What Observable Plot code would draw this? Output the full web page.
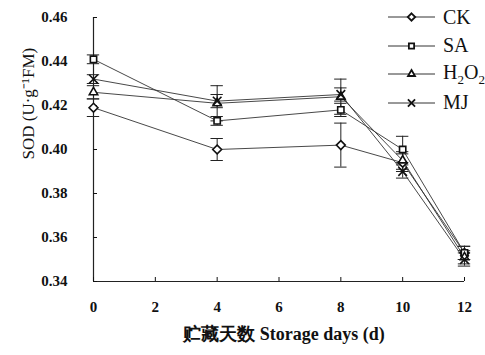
<!DOCTYPE html>
<html><head><meta charset="utf-8">
<script src="https://cdn.jsdelivr.net/npm/d3@7"></script>
<script src="https://cdn.jsdelivr.net/npm/@observablehq/plot@0.6"></script>
<style>
body{margin:0;background:#fff;}
#wrap{position:relative;width:485px;height:355px;}
#legend{position:absolute;left:388px;top:3px;font-family:"Liberation Serif","Times New Roman",serif;font-size:20px;color:#111;}
#legend .row{display:flex;align-items:center;height:28.5px;}
#legend svg{margin-right:8px;}
#legend sub{font-size:13px;}
</style></head><body>
<div id="wrap"><div id="legend"></div></div>
<script>
const days = [0, 4, 8, 10, 12];
const seriesNames = ["CK", "SA", "H2O2", "MJ"];
const ck   = [0.419, 0.400, 0.402, 0.394, 0.353];
const sa   = [0.441, 0.413, 0.418, 0.400, 0.353];
const h2o2 = [0.426, 0.421, 0.424, 0.395, 0.351];
const mj   = [0.432, 0.422, 0.425, 0.390, 0.350];
const ckErr   = [0.004, 0.005, 0.010, 0.004, 0.003];
const saErr   = [0.002, 0.002, 0.003, 0.006, 0.003];
const h2o2Err = [0.003, 0.008, 0.008, 0.004, 0.003];
const mjErr   = [0.002, 0.003, 0.003, 0.003, 0.003];
const xTicks = [0, 2, 4, 6, 8, 10, 12];
const yTicks = [0.34, 0.36, 0.38, 0.40, 0.42, 0.44, 0.46];
const symbols = {CK: "diamond2", SA: "square2", H2O2: "triangle2", MJ: "times"};

const valuesBy = {CK: ck, SA: sa, H2O2: h2o2, MJ: mj};
const errBy = {CK: ckErr, SA: saErr, H2O2: h2o2Err, MJ: mjErr};
const data = seriesNames.flatMap(s => days.map((d, i) => ({series: s, day: d, v: valuesBy[s][i], e: errBy[s][i]})));
const capHalf = 0.2;

const chart = Plot.plot({
  width: 485, height: 355,
  marginLeft: 93, marginRight: 21, marginTop: 17, marginBottom: 74,
  style: {fontFamily: "'Liberation Serif','Times New Roman',serif", fontSize: "15px", color: "#111", background: "#fff"},
  x: {domain: [0, 12]},
  y: {domain: [0.34, 0.46]},
  marks: [
    Plot.ruleX([0], {stroke: "#222", strokeWidth: 1.2}),
    Plot.ruleY([0.34], {stroke: "#222", strokeWidth: 1.2}),
    Plot.axisX({ticks: xTicks, tickSize: -4, tickPadding: 24, tickFormat: d => d, fontWeight: "bold", label: null}),
    Plot.axisY({ticks: yTicks, tickSize: -4, tickPadding: 30, tickFormat: d => d.toFixed(2), fontWeight: "bold", label: null}),
    Plot.ruleX(data, {x: "day", y1: d => d.v - d.e, y2: d => d.v + d.e, stroke: "#222", strokeWidth: 1}),
    Plot.ruleY(data, {y: d => d.v + d.e, x1: d => d.day - capHalf, x2: d => d.day + capHalf, stroke: "#222", strokeWidth: 1}),
    Plot.ruleY(data, {y: d => d.v - d.e, x1: d => d.day - capHalf, x2: d => d.day + capHalf, stroke: "#222", strokeWidth: 1}),
    Plot.line(data, {x: "day", y: "v", z: "series", stroke: "#333", strokeWidth: 0.9}),
    Plot.dot(data, {x: "day", y: "v", symbol: d => symbols[d.series], r: 4, stroke: "#111", strokeWidth: 1.6, fill: d => d.series === "MJ" ? "none" : "white"}),
    Plot.text(["SOD (U·g⁻¹FM)"], {frameAnchor: "left", dx: -65, dy: 10, rotate: -90, fontSize: 17}),
    Plot.text(["贮藏天数 Storage days (d)"], {frameAnchor: "bottom", dy: 58, dx: 5, fontSize: 18, fontWeight: "bold"})
  ]
});
chart.style.overflow = "visible";
document.getElementById("wrap").prepend(chart);

// legend
const legendLabels = {CK: "CK", SA: "SA", H2O2: "H<sub>2</sub>O<sub>2</sub>", MJ: "MJ"};
const sym = {CK: d3.symbolDiamond2, SA: d3.symbolSquare2, H2O2: d3.symbolTriangle2, MJ: d3.symbolTimes};
const leg = document.getElementById("legend");
for (const s of seriesNames) {
  const row = document.createElement("div"); row.className = "row";
  const path = d3.symbol(sym[s], 35)();
  row.innerHTML = `<svg width="47" height="12"><line x1="0" x2="47" y1="6" y2="6" stroke="#333" stroke-width="1"/><path d="${path}" transform="translate(23.5,6)" fill="${s === 'MJ' ? 'none' : 'white'}" stroke="#111" stroke-width="1.8"/></svg><span>${legendLabels[s]}</span>`;
  leg.appendChild(row);
}
</script>
</body></html>
